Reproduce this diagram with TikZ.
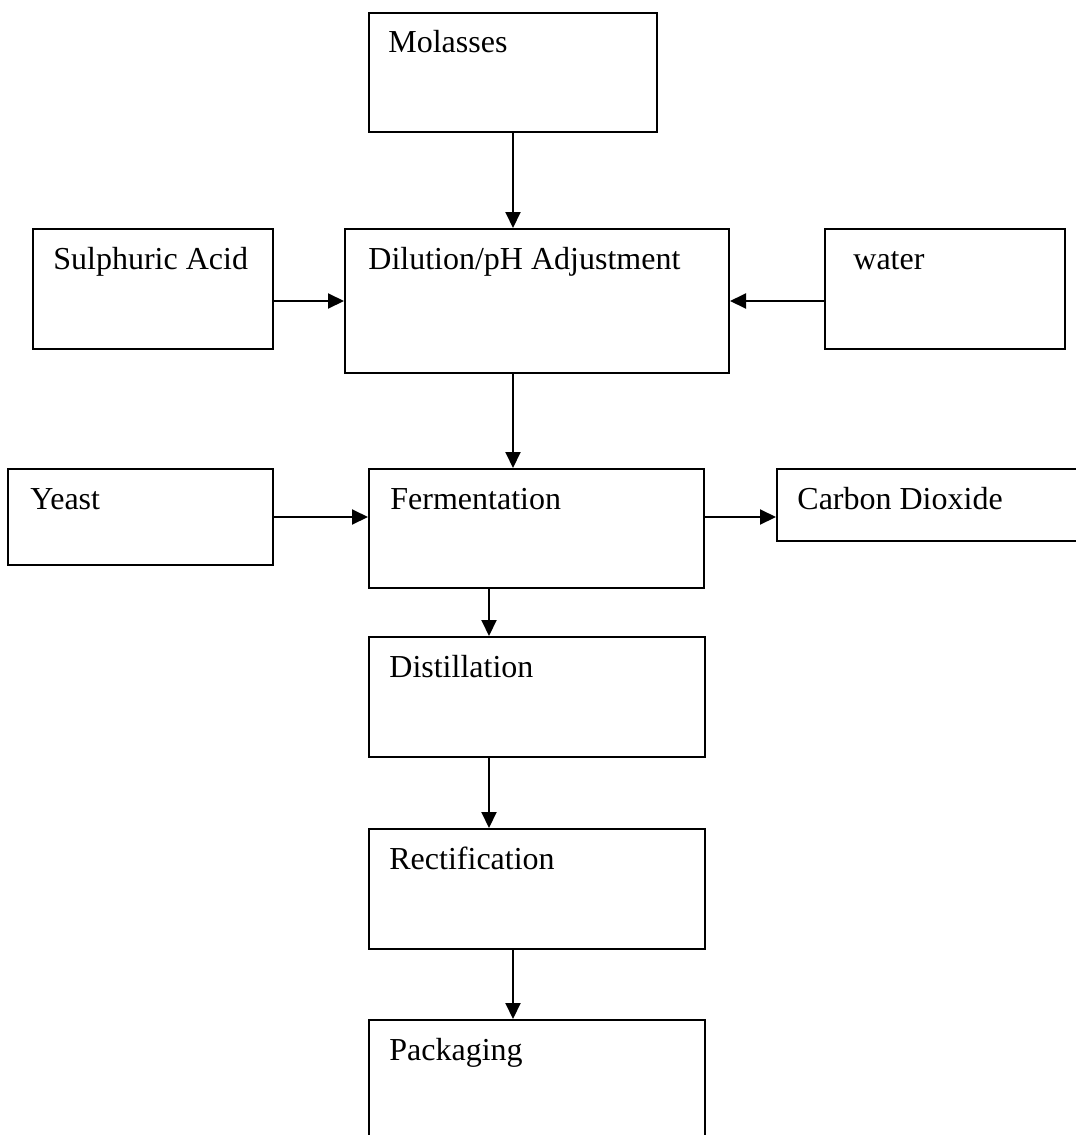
\documentclass[tikz,border=0pt]{standalone}
\usepackage{fontspec}
\setmainfont{Liberation Serif}
\usetikzlibrary{arrows.meta}

% one unit = one pixel of the layout grid
\tikzset{
  procbox/.style={draw=black, line width=1pt, fill=white, rectangle, inner sep=0pt},
  proclabel/.style={inner sep=0pt, font=\fontsize{16pt}{19pt}\selectfont, anchor=base west},
  flow/.style={line width=1pt, -{Triangle[length=8pt,width=7.5pt]}}
}

% \procstep{name}{left}{top}{right}{bottom}{text inset}{text}
\newcommand{\procstep}[7]{%
  \node[procbox, anchor=north west, minimum width={(#4-#2)*0.5pt}, minimum height={(#5-#3)*0.5pt}]
    (#1) at (#2,#3) {};
  \node[proclabel] (#1-txt) at ([xshift={#6*0.5pt}, yshift=-20.5pt]#1.north west) {#7};
}

\begin{document}
\begin{tikzpicture}[x=0.5pt, y=-0.5pt]
  \useasboundingbox (0,0) rectangle (1076,1135);
  \clip (0,0) rectangle (1076,1135);
  \fill[white] (0,0) rectangle (1076,1135);

  % boxes
  \procstep{mol}{368}{12}{656}{131}{20}{Molasses}
  \procstep{sul}{32}{228}{272}{348}{21}{Sulphuric Acid}
  \procstep{dil}{344}{228}{728}{372}{24}{Dilution/pH Adjustment}
  \procstep{wat}{824}{228}{1064}{348}{29}{water}
  \procstep{yst}{7}{468}{272}{564}{23}{Yeast}
  \procstep{fer}{368}{468}{703}{587}{22}{Fermentation}
  \procstep{cod}{776}{468}{1100}{540}{21}{Carbon Dioxide}
  \procstep{dis}{368}{636}{704}{756}{21}{Distillation}
  \procstep{rec}{368}{828}{704}{948}{21}{Rectification}
  \procstep{pac}{368}{1019}{704}{1160}{21}{Packaging}

  % connectors
  \draw[flow] (mol.south) -- (mol.south |- dil.north);
  \draw[flow] (sul.east |- dil.west) -- (dil.west);
  \draw[flow] (wat.west |- dil.east) -- (dil.east);
  \draw[flow] (dil.south -| mol.south) -- (fer.north -| mol.south);
  \draw[flow] (yst.east) -- (yst.east -| fer.west);
  \draw[flow] (yst.east -| fer.east) -- (yst.east -| cod.west);
  \coordinate (ferout) at ([xshift=-23.75pt]fer.south);
  \draw[flow] (ferout) -- (ferout |- dis.north);
  \draw[flow] (dis.south -| ferout) -- (rec.north -| ferout);
  \draw[flow] (rec.south -| mol.south) -- (pac.north -| mol.south);
\end{tikzpicture}
\end{document}
